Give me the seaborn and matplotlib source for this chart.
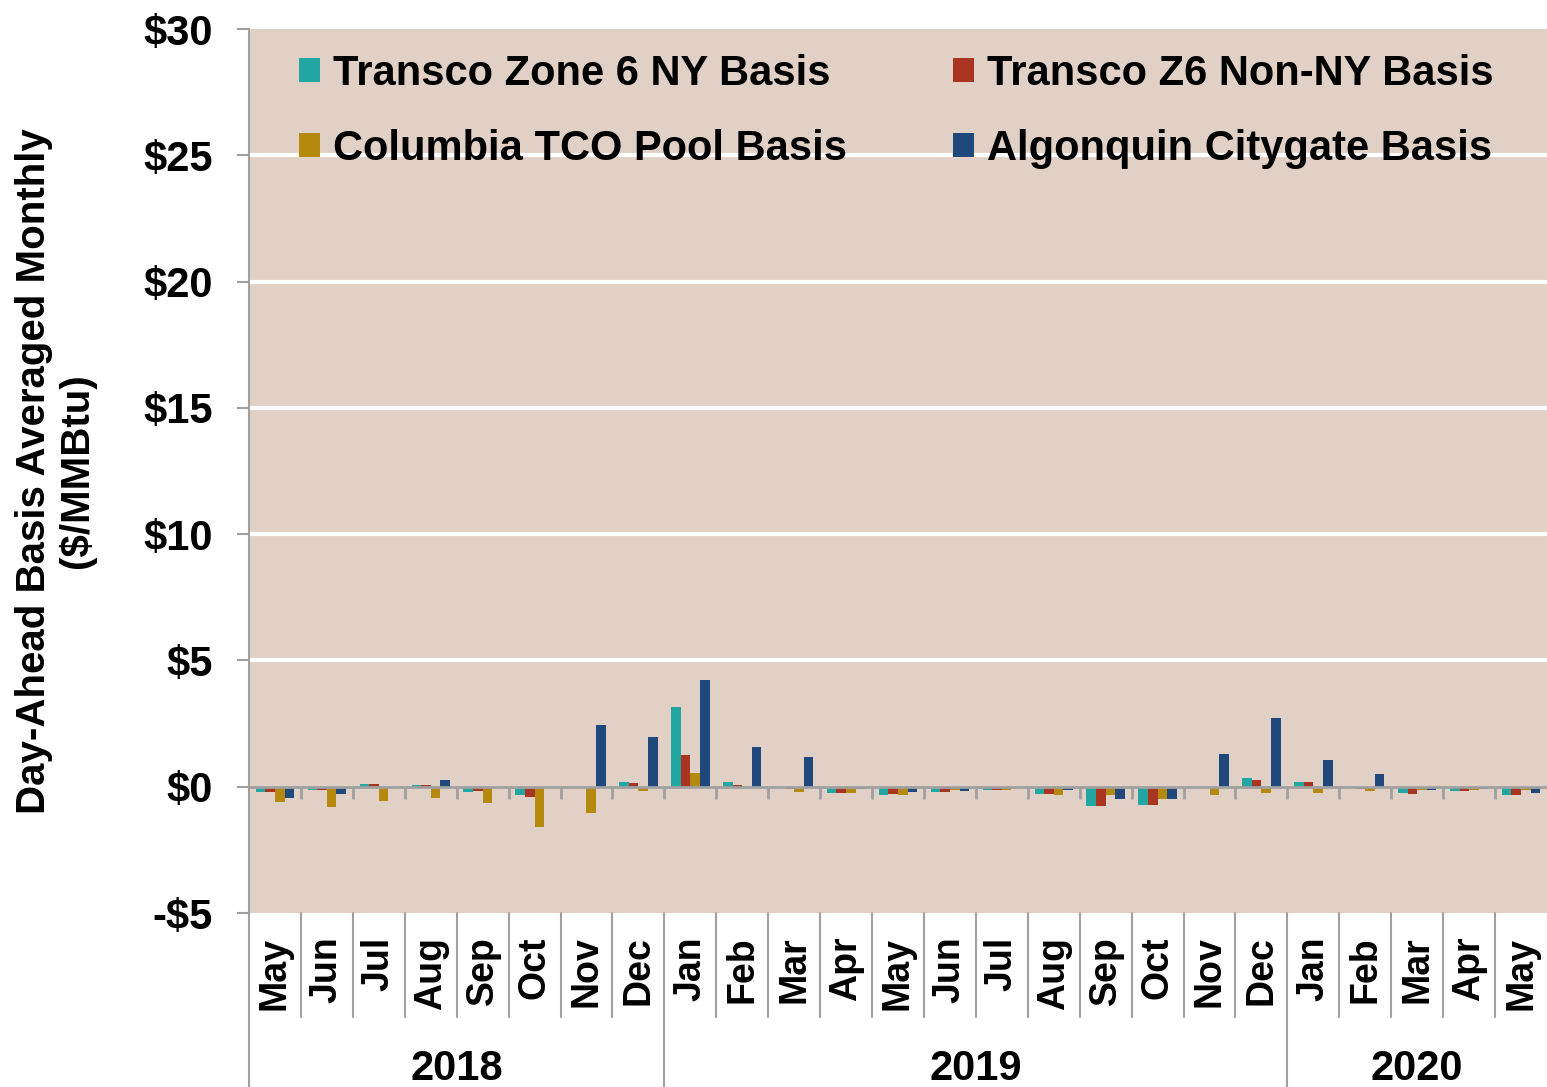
import matplotlib
matplotlib.use("Agg")
import matplotlib.pyplot as plt
import matplotlib.transforms as mtransforms
from matplotlib.patches import Patch
import numpy as np
import pandas as pd
import seaborn as sns

# month axis, May 2018 .. May 2020
months = ["May", "Jun", "Jul", "Aug", "Sep", "Oct", "Nov", "Dec",
          "Jan", "Feb", "Mar", "Apr", "May", "Jun", "Jul", "Aug", "Sep", "Oct", "Nov", "Dec",
          "Jan", "Feb", "Mar", "Apr", "May"]
years = [2018] * 8 + [2019] * 12 + [2020] * 5
year_labels = ["2018", "2019", "2020"]

series_names = ["Transco Zone 6 NY Basis", "Transco Z6 Non-NY Basis",
                "Columbia TCO Pool Basis", "Algonquin Citygate Basis"]

transco_ny = [-0.22, -0.12, 0.09, 0.08, -0.22, -0.33, -0.02, 0.18,
              3.15, 0.17, -0.02, -0.24, -0.34, -0.22, -0.12, -0.29, -0.77, -0.71, -0.02, 0.34,
              0.18, -0.02, -0.24, -0.18, -0.34]
transco_non_ny = [-0.22, -0.12, 0.09, 0.08, -0.18, -0.40, -0.02, 0.14,
                  1.24, 0.08, -0.09, -0.24, -0.29, -0.22, -0.12, -0.29, -0.77, -0.71, -0.03, 0.25,
                  0.18, -0.08, -0.29, -0.18, -0.34]
columbia_tco = [-0.59, -0.82, -0.55, -0.45, -0.66, -1.61, -1.03, -0.18,
                0.55, -0.02, -0.20, -0.24, -0.34, -0.12, -0.12, -0.34, -0.34, -0.50, -0.34, -0.24,
                -0.24, -0.18, -0.12, -0.12, -0.12]
algonquin = [-0.45, -0.29, -0.04, 0.25, -0.03, -0.03, 2.43, 1.96,
             4.22, 1.56, 1.19, -0.09, -0.22, -0.18, -0.04, -0.12, -0.50, -0.50, 1.31, 2.74,
             1.04, 0.51, -0.12, -0.08, -0.24]

colors = ["#21a6a1", "#a93520", "#b5890e", "#1f497d"]
bg_color = "#e1d0c5"
axis_gray = "#a0a0a0"

sns.set_theme(style="white")
plt.rcParams["font.family"] = ["Liberation Sans", "DejaVu Sans"]
plt.rcParams["font.weight"] = "bold"
plt.rcParams["text.color"] = "black"
plt.rcParams["axes.labelcolor"] = "black"
plt.rcParams["xtick.color"] = "black"
plt.rcParams["ytick.color"] = "black"

keys = [f"{y}-{i:02d}" for i, y in enumerate(years)]
frames = []
for name, vals in zip(series_names, [transco_ny, transco_non_ny, columbia_tco, algonquin]):
    frames.append(pd.DataFrame({"month": keys, "series": name, "value": vals}))
df = pd.concat(frames, ignore_index=True)

fig = plt.figure(figsize=(15.47, 10.87), dpi=100)
ax = fig.add_axes([249 / 1547, 1 - 913 / 1087, 1 - 249 / 1547, (913 - 29) / 1087])
ax.set_facecolor(bg_color)

sns.barplot(data=df, x="month", y="value", hue="series", order=keys,
            hue_order=series_names, palette=colors, width=0.74,
            linewidth=0, saturation=1, ax=ax, legend=False, zorder=3)

ax.set_ylim(-5, 30)
ax.set_xlim(-0.5, len(keys) - 0.5)
ax.set_yticks(range(-5, 31, 5))
ax.set_yticklabels([f"-${abs(v)}" if v < 0 else f"${v}" for v in range(-5, 31, 5)],
                   fontsize=30, fontweight="bold", color="black")
for v in range(5, 30, 5):
    ax.axhline(v, color="white", lw=3, zorder=1)
ax.grid(False)

# zero axis line with boundary ticks
ax.axhline(0, color=axis_gray, lw=2, zorder=4)
bounds = np.arange(len(keys) + 1) - 0.5
ax.vlines(bounds[1:-1], -0.47, 0, color=axis_gray, lw=2, zorder=4)

for side in ["top", "right", "bottom"]:
    ax.spines[side].set_visible(False)
ax.spines["left"].set_color(axis_gray)
ax.spines["left"].set_linewidth(1.5)
ax.tick_params(axis="y", left=True, length=9, width=1.5, color=axis_gray, pad=17)

ax.set_xticks(range(len(keys)))
ax.set_xticklabels(months, rotation=90, fontsize=27, fontweight="bold", va="top", color="black")
ax.tick_params(axis="x", bottom=False, length=0, pad=17)
ax.set_xlabel("")

ax.set_ylabel("Day-Ahead Basis Averaged Monthly\n($/MMBtu)", fontsize=29,
              fontweight="bold", linespacing=1.15, color="black")
ax.yaxis.set_label_coords(-0.118, 0.5)

# multi-level category separators below the plot
trans = mtransforms.blended_transform_factory(ax.transData, ax.transAxes)
year_starts = [0] + [i for i in range(1, len(years)) if years[i] != years[i - 1]]
for i, b in enumerate(bounds[:-1]):
    low = -0.197 if i in year_starts else -0.118
    ax.plot([b, b], [0, low], color=axis_gray, lw=1.5, transform=trans, clip_on=False)

for lab in year_labels:
    idx = [i for i, y in enumerate(years) if str(y) == lab]
    center = (idx[0] + idx[-1]) / 2
    ax.text(center, -0.177, lab, transform=trans, ha="center", va="center",
            fontsize=30, fontweight="bold", color="black")

handles = [Patch(facecolor=c, edgecolor="none") for c in colors]
order = [0, 2, 1, 3]
ax.legend([handles[i] for i in order], [series_names[i] for i in order],
          ncol=2, loc="upper left", bbox_to_anchor=(0.026, 0.9905), borderaxespad=0,
          frameon=False, prop={"size": 30, "weight": "bold"},
          handlelength=0.5, handleheight=0.5, handletextpad=0.31,
          columnspacing=2.55, labelspacing=0.83)

fig.savefig("out.png", dpi=100)
